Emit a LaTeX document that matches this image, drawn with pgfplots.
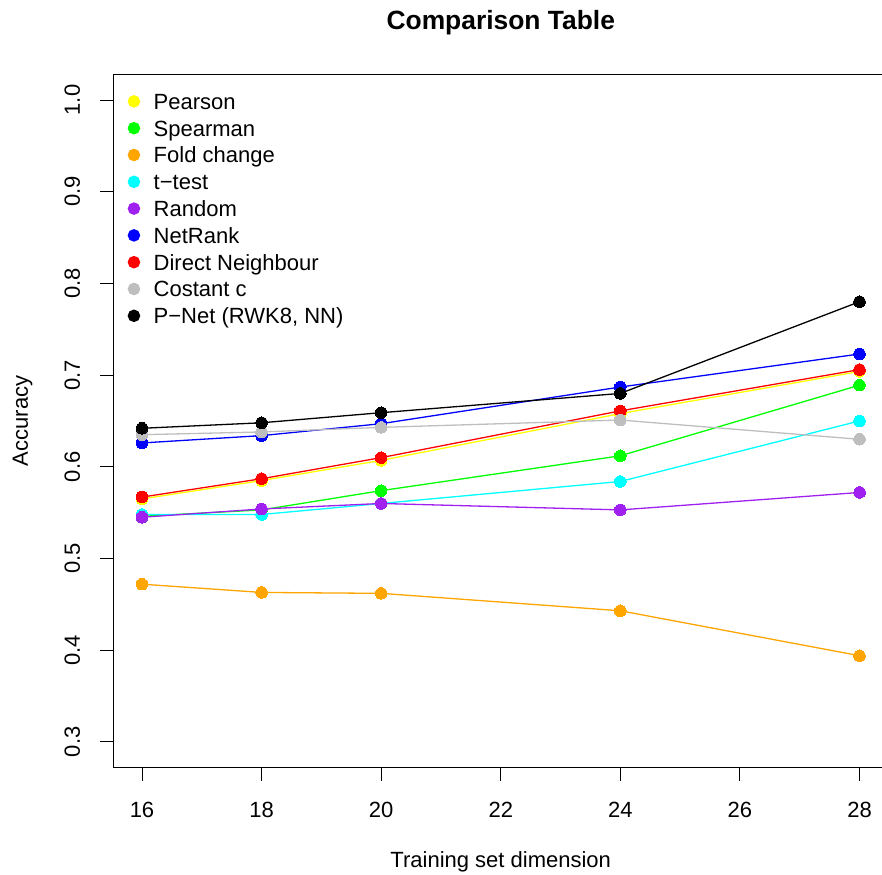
\documentclass[border=0pt]{standalone}
\usepackage{pgfplots}
\pgfplotsset{compat=1.18}
\usepackage{fontspec}
\setmainfont{Liberation Sans}
\definecolor{rpurple}{RGB}{160,32,240}
\definecolor{rorange}{RGB}{255,165,0}
\definecolor{rgreen}{RGB}{0,255,0}
\definecolor{rgray}{RGB}{190,190,190}
\definecolor{ryellow}{RGB}{255,255,0}
\definecolor{rcyan}{RGB}{0,255,255}
\definecolor{rblue}{RGB}{0,0,255}
\definecolor{rred}{RGB}{255,0,0}
\newcommand{\rfont}{\fontsize{22bp}{26bp}\selectfont}
\begin{document}
\begin{tikzpicture}
\useasboundingbox (0,0) rectangle (882bp,875bp);
\begin{axis}[
  at={(113.3bp,107.4bp)}, anchor=south west,
  scale only axis, width=774.9bp, height=693.3bp,
  xmin=15.52, xmax=28.48, ymin=0.272, ymax=1.028,
  xtick={16,18,20,22,24,26,28},
  ytick={0.3,0.4,0.5,0.6,0.7,0.8,0.9,1.0},
  /pgf/number format/assume math mode=true,
  y tick label style={/pgf/number format/fixed, /pgf/number format/fixed zerofill, /pgf/number format/precision=1},
  tick pos=left, tick align=outside, major tick length=13bp,
  every tick/.style={black, line width=0.9bp},
  axis line style={line width=0.9bp},
  every tick label/.append style={font=\rfont, inner sep=0pt},
  xticklabel style={anchor=north, yshift=-21bp},
  yticklabel style={xshift=-20bp, rotate=90, anchor=south},
  title={Comparison Table},
  title style={at={(0.5,1.0555)}, anchor=base, font=\bfseries\fontsize{26.4bp}{30bp}\selectfont, inner sep=0pt},
  xlabel={Training set dimension},
  xlabel style={at={(0.5,-0.1448)}, anchor=base, font=\rfont, inner sep=0pt},
  ylabel={Accuracy},
  ylabel style={at={(-0.1102,0.5)}, anchor=base, font=\rfont, inner sep=0pt},
  every axis plot/.append style={line width=1.3bp, mark=*, mark size=5.8bp, mark options={solid, line width=0pt}},
  legend image code/.code={\fill (0bp,0bp) circle (5.6bp);},
  legend cell align=left,
  legend style={at={(0,1)}, anchor=north west, xshift=14.2bp, yshift=-19bp, draw=none, fill=none, inner sep=0pt,
    font=\rfont, row sep=11bp, column sep=13.5bp,
    nodes={inner sep=0pt, text height=15.8bp, text depth=0pt}},
]
\addplot[color=ryellow] coordinates {(16,0.565) (18,0.585) (20,0.607) (24,0.658) (28,0.704)};
\addlegendentry{Pearson}
\addplot[color=rgreen] coordinates {(16,0.546) (18,0.553) (20,0.574) (24,0.612) (28,0.689)};
\addlegendentry{Spearman}
\addplot[color=rorange] coordinates {(16,0.472) (18,0.463) (20,0.462) (24,0.443) (28,0.394)};
\addlegendentry{Fold change}
\addplot[color=rcyan] coordinates {(16,0.548) (18,0.548) (20,0.560) (24,0.584) (28,0.650)};
\addlegendentry{t\textminus test}
\addplot[color=rpurple] coordinates {(16,0.545) (18,0.554) (20,0.560) (24,0.553) (28,0.572)};
\addlegendentry{Random}
\addplot[color=rblue] coordinates {(16,0.626) (18,0.634) (20,0.647) (24,0.687) (28,0.723)};
\addlegendentry{NetRank}
\addplot[color=rred] coordinates {(16,0.567) (18,0.587) (20,0.610) (24,0.661) (28,0.706)};
\addlegendentry{Direct Neighbour}
\addplot[color=rgray] coordinates {(16,0.635) (18,0.638) (20,0.643) (24,0.651) (28,0.630)};
\addlegendentry{Costant c}
\addplot[color=black] coordinates {(16,0.642) (18,0.648) (20,0.659) (24,0.680) (28,0.780)};
\addlegendentry{P\textminus Net (RWK8, NN)}
\end{axis}
\end{tikzpicture}
\end{document}
